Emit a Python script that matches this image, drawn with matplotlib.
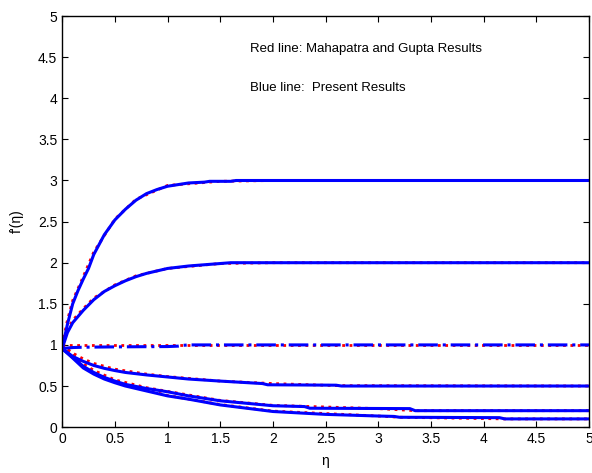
import matplotlib
matplotlib.use('Agg')
import matplotlib.pyplot as plt
import numpy as np

plt.rcParams['font.family'] = ['Liberation Sans', 'DejaVu Sans']

# Present results (blue)
eta_3 = [0, 0.05, 0.1, 0.15, 0.2, 0.25, 0.3, 0.4, 0.5, 0.6, 0.7, 0.8, 0.9, 1.0, 1.2, 1.35, 1.4, 1.6, 1.65, 2.0, 5.0]
f_3 = [0.955, 1.25, 1.5, 1.66, 1.8, 1.93, 2.1, 2.34, 2.52, 2.65, 2.76, 2.84, 2.89, 2.93, 2.97, 2.98, 2.99, 2.99, 3.0, 3.0, 3.0]

eta_2 = [0, 0.05, 0.1, 0.2, 0.3, 0.4, 0.5, 0.6, 0.7, 0.8, 0.9, 1.0, 1.2, 1.5, 1.6, 2.0, 5.0]
f_2 = [0.955, 1.15, 1.27, 1.42, 1.55, 1.65, 1.72, 1.78, 1.83, 1.87, 1.90, 1.93, 1.96, 1.99, 2.0, 2.0, 2.0]

eta_1 = [0, 0.05, 0.1, 0.2, 0.5, 1.0, 1.1, 1.15, 1.2, 5.0]
f_1 = [0.955, 0.962, 0.968, 0.972, 0.976, 0.98, 0.985, 0.995, 1.0, 1.0]

eta_05 = [0, 0.1, 0.2, 0.3, 0.4, 0.5, 0.6, 0.8, 1.0, 1.2, 1.5, 1.9, 1.95, 2.6, 2.65, 5.0]
f_05 = [0.955, 0.86, 0.80, 0.75, 0.715, 0.688, 0.665, 0.635, 0.61, 0.585, 0.56, 0.53, 0.515, 0.51, 0.5, 0.5]

eta_02 = [0, 0.1, 0.2, 0.3, 0.4, 0.5, 0.6, 0.8, 1.0, 1.2, 1.5, 2.0, 2.3, 2.35, 3.3, 3.35, 5.0]
f_02 = [0.955, 0.85, 0.74, 0.665, 0.605, 0.56, 0.52, 0.47, 0.43, 0.38, 0.32, 0.26, 0.25, 0.23, 0.225, 0.2, 0.2]

eta_01 = [0, 0.1, 0.2, 0.3, 0.4, 0.5, 0.6, 0.8, 1.0, 1.2, 1.5, 2.0, 2.5, 3.0, 3.15, 3.2, 4.15, 4.2, 5.0]
f_01 = [0.955, 0.84, 0.72, 0.645, 0.585, 0.54, 0.50, 0.44, 0.38, 0.34, 0.27, 0.19, 0.155, 0.135, 0.13, 0.12, 0.115, 0.1, 0.1]

# Mahapatra and Gupta results (red dotted)
eta_r3 = [0, 0.05, 0.1, 0.2, 0.3, 0.5, 0.7, 1.0, 1.5, 2.0, 5.0]
f_r3 = [1.0, 1.3, 1.54, 1.83, 2.13, 2.53, 2.77, 2.94, 2.99, 3.0, 3.0]
eta_r2 = [0, 0.05, 0.1, 0.2, 0.3, 0.5, 0.7, 1.0, 1.5, 2.0, 5.0]
f_r2 = [1.0, 1.18, 1.3, 1.44, 1.57, 1.73, 1.84, 1.93, 1.99, 2.0, 2.0]
eta_r1 = [0, 5.0]
f_r1 = [1.0, 1.0]
eta_r05 = [0, 0.1, 0.2, 0.3, 0.5, 0.8, 1.0, 1.5, 2.0, 2.6, 5.0]
f_r05 = [1.0, 0.9, 0.83, 0.775, 0.705, 0.645, 0.615, 0.56, 0.53, 0.505, 0.5]
eta_r02 = [0, 0.1, 0.2, 0.3, 0.5, 0.8, 1.0, 1.5, 2.0, 3.0, 3.35, 5.0]
f_r02 = [1.0, 0.88, 0.77, 0.69, 0.575, 0.48, 0.435, 0.325, 0.265, 0.225, 0.2, 0.2]
eta_r01 = [0, 0.1, 0.2, 0.3, 0.5, 0.8, 1.0, 1.5, 2.0, 3.0, 3.2, 4.2, 5.0]
f_r01 = [1.0, 0.87, 0.75, 0.67, 0.555, 0.45, 0.385, 0.275, 0.195, 0.135, 0.12, 0.1, 0.1]

fig = plt.figure(figsize=(5.92, 4.73), dpi=100)
ax = fig.add_axes([0.105, 0.097, 0.89, 0.869])

red_sets = [(eta_r3, f_r3), (eta_r2, f_r2), (eta_r1, f_r1), (eta_r05, f_r05), (eta_r02, f_r02), (eta_r01, f_r01)]
for e, f in red_sets:
    ax.plot(e, f, color='red', linestyle=':', linewidth=2.0)

blue_sets = [(eta_3, f_3, '-'), (eta_2, f_2, '-'), (eta_1, f_1, '-.'), (eta_05, f_05, '-'), (eta_02, f_02, '-'), (eta_01, f_01, '-')]
for e, f, ls in blue_sets:
    ax.plot(e, f, color='#0000ff', linestyle=ls, linewidth=2.2)

ax.set_xlim(0, 5)
ax.set_ylim(0, 5)
ax.set_xticks(np.arange(0, 5.01, 0.5))
ax.set_yticks(np.arange(0, 5.01, 0.5))
ax.set_xticklabels(['0', '0.5', '1', '1.5', '2', '2.5', '3', '3.5', '4', '4.5', '5'])
ax.set_yticklabels(['0', '0.5', '1', '1.5', '2', '2.5', '3', '3.5', '4', '4.5', '5'])
ax.tick_params(direction='in', top=True, right=True, length=4, labelsize=10)
for s in ax.spines.values():
    s.set_linewidth(1.0)

ax.set_xlabel('η', fontsize=10, labelpad=6)
ax.set_ylabel("f'(η)", fontsize=10, labelpad=10)

ax.text(1.78, 4.6, 'Red line: Mahapatra and Gupta Results', fontsize=9.5, va='center')
ax.text(1.78, 4.12, 'Blue line:  Present Results', fontsize=9.5, va='center')

fig.savefig('out.png', dpi=100)
